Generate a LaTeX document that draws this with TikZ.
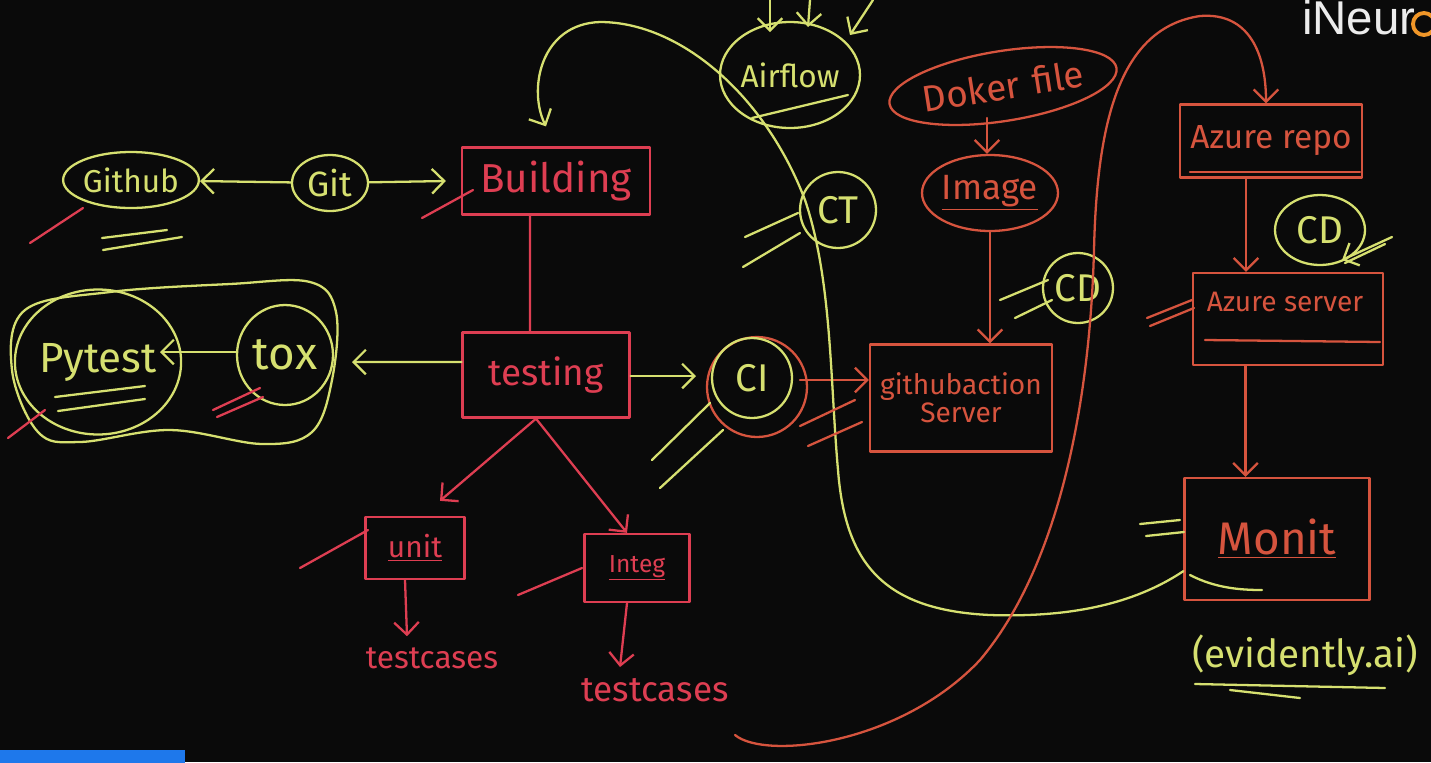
\documentclass[tikz,border=0pt]{standalone}
\usepackage{fontspec}
\setmainfont{Fira Sans}
\newfontfamily\logofont{Liberation Sans}
\usetikzlibrary{arrows.meta,shapes.geometric}
\definecolor{bg}{RGB}{10,10,10}
\definecolor{chY}{RGB}{214,224,112}
\definecolor{chR}{RGB}{222,62,82}
\definecolor{chO}{RGB}{214,84,62}
\definecolor{logoC}{RGB}{236,236,236}
\definecolor{logoO}{RGB}{240,150,40}
\definecolor{barB}{RGB}{30,120,235}
\newcommand\myfs[1]{\fontsize{#1}{#1}\selectfont}
\begin{document}
\begin{tikzpicture}[x=0.02cm,y=-0.02cm,line cap=round,line join=round,
  chalk/.style={line width=1.3pt},
  yl/.style={chalk,draw=chY,text=chY},
  rd/.style={chalk,draw=chR,text=chR},
  og/.style={chalk,draw=chO,text=chO},
  box/.style={rectangle,inner sep=0pt},
  ell/.style={ellipse,inner sep=0pt},
  circ/.style={circle,inner sep=0pt},
  tip/.style={-{Straight Barb[length=7pt,width=14pt,line width=1.3pt]}},
]
\fill[bg] (0,0) rectangle (1431,762);
\useasboundingbox (0,0) rectangle (1431,762);
\fill[barB] (0,750) rectangle (185,770);

% ---- left part ----
\node[yl,ell,minimum width=2.52cm,minimum height=1.12cm,font=\myfs{18}] (github) at (131,180) {Github};
\node[yl,ell,minimum width=1.52cm,minimum height=1.12cm,font=\myfs{20}] (git) at (330,183) {Git};
\node[rd,box,minimum width=3.76cm,minimum height=1.34cm,font=\myfs{23}] (building) at (556,181) {Building};
\node[rd,box,minimum width=3.34cm,minimum height=1.7cm,font=\myfs{21}] (testing) at (546,375) {testing};
\node[yl,ell,minimum width=3.1cm,minimum height=2.9cm,font=\myfs{24}] (pytest) at (98,362) {Pytest};
\node[yl,ell,minimum width=1.92cm,minimum height=2.0cm,font=\myfs{26}] (tox) at (285,355) {tox};
\node[rd,box,minimum width=1.98cm,minimum height=1.24cm,font=\myfs{17}] (unit) at (415,548) {\underline{unit}};
\node[rd,box,minimum width=2.1cm,minimum height=1.36cm,font=\myfs{14}] (integ) at (637,568) {\underline{Integ}};
\node[text=chR,font=\myfs{18}] (tc1) at (432,658) {testcases};
\node[text=chR,font=\myfs{20}] (tc2) at (655,690) {testcases};

% outer blob round pytest and tox
\draw[yl] plot[smooth cycle,tension=0.6] coordinates {(25,310) (110,292) (230,284) (310,282) (336,312) (332,380) (312,432) (262,444) (170,430) (80,442) (38,432) (12,370)};

% ---- middle ----
\node[og,circ,minimum size=2.0cm] (cir) at (757,387) {};
\node[yl,circ,minimum size=1.6cm,font=\myfs{22}] (ci) at (752,378) {CI};
\node[og,box,minimum width=3.64cm,minimum height=2.14cm,font=\myfs{16},align=center] (gha) at (961,398) {githubaction\\Server};
\node[yl,ell,minimum width=2.48cm,minimum height=2.12cm,font=\myfs{18}] (airflow) at (790,75) {Airflow};
\node[yl,circ,minimum size=1.52cm,font=\myfs{22}] (ct) at (838,210) {CT};

% ---- right part ----
\node[og,ell,minimum width=4.0cm,minimum height=1.4cm,rotate=9,font=\myfs{21}] (docker) at (1003,86) {Doker\,\,file};
\node[og,ell,minimum width=2.72cm,minimum height=1.52cm,font=\myfs{20}] (image) at (990,193) {\underline{Image}};
\node[yl,circ,minimum size=1.4cm,font=\myfs{22}] (cd1) at (1078,288) {CD};
\node[og,box,minimum width=3.64cm,minimum height=1.46cm,font=\myfs{19}] (azrepo) at (1271,141) {Azure repo};
\node[yl,ell,minimum width=1.8cm,minimum height=1.4cm,font=\myfs{22}] (cd2) at (1320,230) {CD};
\node[og,box,minimum width=3.8cm,minimum height=1.84cm] (azserver) at (1288,319) {};
\node[text=chO,font=\myfs{16}] (azserverT) at (1285,302) {Azure server};
\node[og,box,minimum width=3.7cm,minimum height=2.44cm,font=\myfs{26}] (monit) at (1277,539) {\underline{Monit}};
\node[text=chY,font=\myfs{22}] (evid) at (1305,655) {(evidently.ai)};
\node[text=logoC,font=\logofont\myfs{27},anchor=west] (logo) at (1296,18) {iNeur};
\draw[logoO,line width=2.2pt] (1424,24) circle (11);

% ---- connectors ----
\draw[yl,tip] (git) -- (github);
\draw[yl,tip] (git) -- ([xshift=-0.3cm]building.west);
\draw[rd] ([xshift=-0.52cm]building.south) -- ([xshift=-0.32cm]testing.north);
\coordinate (toxin) at (352,362);
\draw[yl,tip] ([yshift=0.26cm]testing.west) -- (toxin);
\coordinate (ciin) at (696,376);
\draw[yl,tip] (testing.east |- ciin) -- (ciin);
\coordinate (pyin) at (160,352);
\draw[yl,tip] (tox.west |- pyin) -- (pyin);
\coordinate (tsplit) at ([xshift=-0.2cm]testing.south);
\draw[rd,tip] (tsplit) -- ([xshift=0.5cm,yshift=0.3cm]unit.north);
\draw[rd,tip] (tsplit) -- ([xshift=-0.2cm]integ.north);
\draw[rd,tip] ([xshift=-0.2cm]unit.south) -- ([xshift=-0.5cm,yshift=0.1cm]tc1.north);
\draw[rd,tip] ([xshift=-0.2cm]integ.south) -- ([xshift=-0.7cm,yshift=0.1cm]tc2.north);
\coordinate (ciout) at (800,380);
\draw[og,tip] (ciout) -- (ciout -| gha.west);
\coordinate (dk) at (987,118);
\draw[og,tip] (dk) -- (dk |- image.north);
\draw[og,tip] (image.south) -- (image.south |- gha.north);
\coordinate (a1) at ([xshift=-0.5cm]azrepo.south);
\draw[og,tip] (a1) -- (a1 |- azserver.north);
\coordinate (a2) at ([xshift=-0.85cm]azserver.south);
\draw[og,tip] (a2) -- (a2 |- monit.north);

% big yellow loop: Monit back to Building
\draw[yl,tip] ([yshift=0.6cm]monit.south west) .. controls (1140,600) and (1080,618) .. (990,615)
  .. controls (880,610) and (845,560) .. (838,470)
  .. controls (830,380) and (832,280) .. (805,200)
  .. controls (765,95) and (680,22) .. (600,22)
  .. controls (540,24) and (528,90) .. ([xshift=-0.2cm,yshift=0.4cm]building.north);
\draw[yl] (1190,575) .. controls (1215,588) and (1240,590) .. (1262,590);

% big red loop: testcases to Azure repo
\coordinate (rs) at (735,735);
\draw[og,tip] (rs) .. controls (765,760) and (900,745) .. (980,660)
  .. controls (1060,565) and (1090,400) .. (1094,250)
  .. controls (1097,120) and (1120,28) .. (1200,16)
  .. controls (1250,12) and (1266,55) .. ([xshift=-0.1cm]azrepo.north);

% airflow inputs
\draw[yl,tip] (770,0) -- (770,32);
\draw[yl,tip] (810,0) -- (808,27);
\draw[yl,tip] (873,0) -- (850,35);
\draw[yl] (752,118) -- (848,95);

% ---- tick marks and underlines ----
\draw[rd] (30,243) -- (83,208);
\draw[yl] (102,238) -- (167,230);
\draw[yl] (103,250) -- (182,237);
\draw[rd] (422,218) -- (473,190);
\draw[yl] (55,397) -- (145,386);
\draw[yl] (58,411) -- (145,399);
\draw[rd] (8,438) -- (45,410);
\draw[rd] (213,410) -- (260,388);
\draw[rd] (217,417) -- (263,397);
\draw[rd] (300,568) -- (368,530);
\draw[rd] (518,595) -- (582,568);
\draw[yl] (652,460) -- (710,403);
\draw[yl] (660,488) -- (723,430);
\draw[og] (800,426) -- (855,400);
\draw[og] (808,446) -- (862,422);
\draw[yl] (745,237) -- (798,213);
\draw[yl] (743,267) -- (800,233);
\draw[yl] (1000,300) -- (1048,280);
\draw[yl] (1015,318) -- (1052,300);
\draw[yl,tip] (1392,237) -- (1342,260);
\draw[yl] (1385,244) -- (1345,263);
\draw[og] (1147,318) -- (1192,300);
\draw[og] (1150,326) -- (1194,308);
\draw[og] (1190,172) -- (1360,172);
\draw[og] (1205,340) -- (1380,342);
\draw[yl] (1140,524) -- (1180,520);
\draw[yl] (1146,536) -- (1184,532);
\draw[yl] (1195,684) -- (1385,688);
\draw[yl] (1230,690) -- (1300,698);
\end{tikzpicture}
\end{document}
